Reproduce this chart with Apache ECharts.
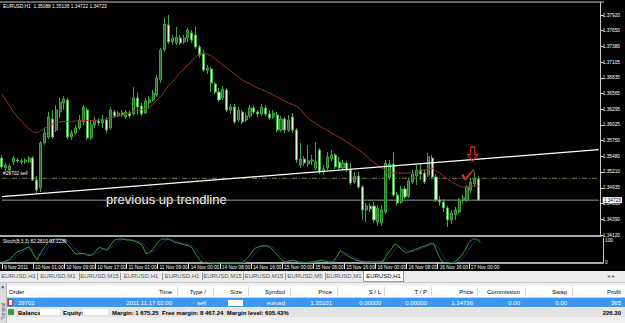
<!DOCTYPE html>
<html><head><meta charset="utf-8">
<script src="https://cdn.jsdelivr.net/npm/echarts@6/dist/echarts.min.js"></script>
<style>
html,body{margin:0;padding:0;background:#f0f0f0;}
#wrap{position:relative;width:625px;height:323px;overflow:hidden;font-family:'Liberation Sans',Arial,sans-serif;background:#f0f0f0;}
#chart{position:absolute;left:0;top:0;width:625px;height:272px;}
.a{position:absolute;white-space:nowrap;font-size:6px;line-height:8px;}
</style></head><body>
<div id="wrap"><div id="chart"></div><div id="ui"></div></div>
<script>
// ---------- data (EURUSD H1) ----------
const timeLabels = ['9 Nov 2011','10 Nov 01:00','10 Nov 09:00','10 Nov 17:00','11 Nov 01:00','11 Nov 09:00','14 Nov 00:00','14 Nov 08:00','14 Nov 16:00','15 Nov 00:00','15 Nov 08:00','15 Nov 16:00','16 Nov 00:00','16 Nov 08:00','16 Nov 16:00','17 Nov 00:00'];
const priceTicks = [1.37920,1.37650,1.37380,1.37105,1.36835,1.36565,1.36295,1.36025,1.35750,1.35480,1.35210,1.34935,1.34665,1.34390,1.34120];
const stochTicks = [0,100];
const openP = [
1.35451,1.35279,1.35244,1.35382,1.35417,1.35400,1.35382,1.35382,1.35451,1.35071,
1.34933,1.35710,1.35814,1.36125,1.35935,1.36246,1.36401,1.36453,1.35814,1.35883,
1.35969,1.36073,1.36280,1.35797,1.36021,1.36090,1.36056,1.36108,1.35969,1.36246,
1.36177,1.36228,1.36159,1.36228,1.36211,1.36488,1.36349,1.36228,1.36401,1.36453,
1.36539,1.36798,1.37317,1.37748,1.37455,1.37437,1.37524,1.37455,1.37524,1.37610,
1.37576,1.37368,1.37247,1.36971,1.36988,1.36729,1.36591,1.36488,1.36626,1.36280,
1.36332,1.36108,1.36246,1.36108,1.36177,1.36315,1.36246,1.36211,1.36315,1.36211,
1.36159,1.36194,1.35935,1.36125,1.35935,1.36159,1.35935,1.35330,1.35434,1.35348,
1.35400,1.35279,1.35590,1.35210,1.35279,1.35434,1.35503,1.35382,1.35279,1.35365,
1.35244,1.35037,1.35140,1.34950,1.34553,1.34622,1.34622,1.34346,1.34329,1.34519,
1.35106,1.35348,1.34812,1.34691,1.34916,1.34795,1.35037,1.35140,1.35244,1.35192,
1.35158,1.35451,1.35123,1.34726,1.34691,1.34588,1.34381,1.34467,1.34519,1.34726,
1.34726,1.34899,1.35002,1.35088];
const closeP = [
1.35296,1.35330,1.35313,1.35451,1.35400,1.35382,1.35417,1.35451,1.35071,1.34899,
1.35710,1.35883,1.36159,1.35814,1.36280,1.36418,1.36470,1.35814,1.35883,1.35969,
1.36108,1.36332,1.35797,1.36021,1.36108,1.36056,1.36125,1.35935,1.36280,1.36177,
1.36228,1.36194,1.36246,1.36177,1.36488,1.36332,1.36211,1.36436,1.36453,1.36574,
1.36833,1.37317,1.37766,1.37455,1.37524,1.37541,1.37437,1.37524,1.37662,1.37489,
1.37368,1.37230,1.36971,1.37006,1.36747,1.36591,1.36453,1.36643,1.36280,1.36332,
1.36073,1.36280,1.36073,1.36177,1.36315,1.36246,1.36211,1.36332,1.36211,1.36142,
1.36228,1.35935,1.36125,1.35935,1.36108,1.35935,1.35417,1.35434,1.35365,1.35400,
1.35417,1.35382,1.35210,1.35261,1.35469,1.35503,1.35296,1.35279,1.35365,1.35244,
1.35020,1.35140,1.34950,1.34553,1.34622,1.34571,1.34381,1.34588,1.34553,1.35365,
1.35348,1.34812,1.34674,1.34916,1.34778,1.35054,1.35175,1.35244,1.35175,1.35037,
1.35469,1.35123,1.34726,1.34691,1.34588,1.34381,1.34501,1.34553,1.34726,1.34761,
1.34950,1.35037,1.35089,1.34723];
const lowP = [
1.35261,1.35227,1.35192,1.35330,1.35365,1.35348,1.35348,1.35365,1.35054,1.34847,
1.34864,1.35676,1.35780,1.35780,1.35900,1.36142,1.36280,1.35780,1.35762,1.35849,
1.35935,1.36021,1.35762,1.35762,1.35969,1.36004,1.35969,1.35883,1.35935,1.36142,
1.36159,1.36159,1.36125,1.36142,1.36177,1.36194,1.36177,1.36211,1.36298,1.36418,
1.36505,1.36747,1.37282,1.37420,1.37403,1.37403,1.37403,1.37420,1.37455,1.37437,
1.37334,1.37178,1.36937,1.36902,1.36591,1.36557,1.36418,1.36453,1.36246,1.36211,
1.36039,1.36073,1.36039,1.36073,1.36142,1.36211,1.36159,1.36177,1.36177,1.36108,
1.36125,1.35900,1.35900,1.35883,1.35900,1.35883,1.35365,1.35279,1.35313,1.35296,
1.35330,1.35244,1.35175,1.35158,1.35244,1.35382,1.35261,1.35261,1.35244,1.35210,
1.34985,1.35002,1.34916,1.34381,1.34346,1.34519,1.34329,1.34277,1.34277,1.34484,
1.35071,1.34778,1.34640,1.34657,1.34743,1.34761,1.35002,1.34985,1.35071,1.35002,
1.35123,1.35089,1.34691,1.34622,1.34519,1.34260,1.34312,1.34381,1.34484,1.34657,
1.34691,1.34847,1.34950,1.34722];
const highP = [
1.35503,1.35365,1.35348,1.35486,1.35451,1.35434,1.35451,1.35486,1.35486,1.35140,
1.35745,1.35969,1.36246,1.36280,1.36367,1.36488,1.36522,1.36488,1.35935,1.36021,
1.36194,1.36367,1.36315,1.36108,1.36159,1.36142,1.36194,1.36159,1.36332,1.36280,
1.36263,1.36280,1.36280,1.36263,1.36678,1.36574,1.36401,1.36488,1.36522,1.36626,
1.36885,1.37351,1.37869,1.37921,1.37576,1.37714,1.37576,1.37576,1.37696,1.37662,
1.37714,1.37403,1.37317,1.37057,1.37023,1.36764,1.36660,1.36695,1.36660,1.36384,
1.36384,1.36332,1.36280,1.36228,1.36367,1.36349,1.36280,1.36384,1.36367,1.36280,
1.36280,1.36246,1.36177,1.36159,1.36194,1.36228,1.35969,1.35710,1.35486,1.35676,
1.35503,1.35728,1.35624,1.35330,1.35555,1.35590,1.35538,1.35469,1.35417,1.35400,
1.35365,1.35210,1.35210,1.34985,1.34674,1.34674,1.34691,1.34640,1.34640,1.35417,
1.35417,1.35555,1.34864,1.34968,1.34968,1.35106,1.35244,1.35330,1.35365,1.35244,
1.35538,1.35503,1.35175,1.34795,1.34743,1.34622,1.34553,1.34605,1.34761,1.34812,
1.34985,1.35106,1.35210,1.35136];
const maLine = [
1.36557,1.36453,1.36349,1.36246,1.36159,1.36090,1.36021,1.35952,1.35900,1.35883,
1.35917,1.35969,1.36004,1.36039,1.36056,1.36073,1.36082,1.36082,1.36082,1.36090,
1.36090,1.36099,1.36099,1.36099,1.36099,1.36108,1.36116,1.36125,1.36142,1.36159,
1.36177,1.36194,1.36211,1.36228,1.36254,1.36272,1.36289,1.36306,1.36332,1.36384,
1.36453,1.36522,1.36608,1.36695,1.36764,1.36850,1.36919,1.36988,1.37057,1.37127,
1.37196,1.37247,1.37265,1.37247,1.37213,1.37161,1.37109,1.37057,1.37006,1.36954,
1.36902,1.36850,1.36798,1.36764,1.36729,1.36695,1.36660,1.36634,1.36608,1.36574,
1.36539,1.36505,1.36470,1.36436,1.36401,1.36375,1.36349,1.36298,1.36211,1.36142,
1.36090,1.36047,1.36004,1.35961,1.35926,1.35883,1.35849,1.35805,1.35771,1.35728,
1.35685,1.35641,1.35590,1.35546,1.35486,1.35425,1.35374,1.35322,1.35279,1.35244,
1.35210,1.35192,1.35192,1.35192,1.35192,1.35192,1.35192,1.35210,1.35227,1.35244,
1.35261,1.35279,1.35227,1.35192,1.35140,1.35089,1.35045,1.35002,1.34968,1.34950,
1.34950,1.34959,1.34968,1.34968];
const stochMain = [
2,8,15,31,46,50,58,65,38,12,
42,65,85,92,96,96,88,73,54,35,
38,38,31,31,46,62,58,50,73,92,
96,96,92,92,88,81,73,38,42,58,
81,96,96,96,85,81,77,73,69,58,
31,8,0,0,1,0,2,0,1,0,
1,0,2,19,38,58,65,69,69,62,
46,27,12,4,8,12,4,0,1,4,
4,8,12,8,4,4,23,50,38,27,
19,12,8,4,4,4,4,4,8,35,
54,77,65,50,42,46,54,58,65,69,
77,77,38,8,0,0,1,12,27,50,
81,96,96,82.281];
const stochSignal = [
5,5,8,18,31,42,51,58,54,38,
31,40,64,81,91,95,93,86,72,54,
42,37,36,33,36,46,55,57,60,72,
87,95,95,93,91,87,81,64,51,46,
60,78,91,96,92,87,81,77,73,67,
53,32,13,3,0,0,0,0,0,0,
0,0,0,6,19,38,54,64,68,67,
59,45,28,14,8,8,8,5,2,2,
3,5,8,9,8,5,10,26,37,38,
28,19,13,8,5,4,4,4,5,16,
32,55,65,64,52,46,47,53,59,64,
70,74,64,41,15,3,0,4,13,30,
53,76,91,93.1236];
const trendLine = [[0,1.34783],[154,1.35595]];
const orderPrice = 1.35101;
const bidPrice = 1.34723;
const lineEnds = [0,154];
const arrowAt = [122,1.35520];
const checkAt = [121,1.35175];

// ---------- chart ----------
const N = 155;
const cats = Array.from({length:N},(_,i)=>i);
const candles = openP.map((o,i)=>[o,closeP[i],lowP[i],highP[i]]);
const F = "'Liberation Sans', Arial, sans-serif";
const FS = 4.8;
const showIdx = i => i%8===0 && i/8 < timeLabels.length;
const chart = echarts.init(document.getElementById('chart'), null, {renderer:'svg'});
chart.setOption({
  backgroundColor:'#000',
  animation:false,
  title:[
    {text:'EURUSD,H1  1.35088 1.35136 1.34722 1.34723', left:3, top:4, padding:0, textStyle:{color:'#fff',fontSize:FS,fontWeight:'normal',fontFamily:F}},
    {text:'Stoch(8,3,3) 82.2810 93.1236', left:3, top:239, padding:0, textStyle:{color:'#fff',fontSize:FS,fontWeight:'normal',fontFamily:F}}
  ],
  grid:[{left:0,top:2,width:603,height:234},{left:0,top:238,width:603,height:25}],
  xAxis:[
    {type:'category',gridIndex:0,data:cats,boundaryGap:true,
     axisLine:{show:true,lineStyle:{color:'#a8a8a8',width:2}},axisTick:{show:false},axisLabel:{show:false},splitLine:{show:false}},
    {type:'category',gridIndex:1,data:cats,boundaryGap:true,
     axisLine:{show:true,lineStyle:{color:'#a8a8a8',width:2}},
     axisTick:{show:true,alignWithLabel:true,interval:(i)=>showIdx(i),length:6,lineStyle:{color:'#ddd',width:1}},
     axisLabel:{show:true,interval:(i)=>showIdx(i),formatter:(v)=>timeLabels[v/8],color:'#fff',fontSize:FS,fontFamily:F,align:'left',margin:2,padding:[0,0,0,2]},
     splitLine:{show:false}}
  ],
  yAxis:[
    {type:'value',gridIndex:0,position:'right',min:1.34104,max:1.38145,
     axisLine:{show:true,lineStyle:{color:'#c8c8c8',width:1}},
     axisTick:{show:true,customValues:priceTicks,length:3,lineStyle:{color:'#ddd'}},
     axisLabel:{show:true,customValues:priceTicks.concat([bidPrice]),
       formatter:(v)=> v===bidPrice ? '{hl|'+v.toFixed(5)+'}' : v.toFixed(5),
       rich:{hl:{backgroundColor:'#fff',color:'#000',fontSize:FS,fontFamily:F,padding:[1,1,0,1]}},
       color:'#fff',fontSize:FS,fontFamily:F,margin:2},
     splitLine:{show:false}},
    {type:'value',gridIndex:1,position:'right',min:0,max:100,
     axisLine:{show:true,lineStyle:{color:'#c8c8c8',width:1}},
     axisTick:{show:false},
     axisLabel:{show:true,customValues:stochTicks,
       formatter:(v)=> v===100 ? '{t|100}' : '{b|0}',
       rich:{t:{padding:[5,0,0,0],color:'#fff',fontSize:FS,fontFamily:F},b:{padding:[0,0,2,0],color:'#fff',fontSize:FS,fontFamily:F}},
       color:'#fff',fontSize:FS,fontFamily:F,margin:2},
     splitLine:{show:false}}
  ],
  series:[
    {type:'line',xAxisIndex:0,yAxisIndex:0,data:lineEnds.map(i=>[i,bidPrice]),symbol:'none',lineStyle:{color:'#9a9a9a',width:1},z:1},
    {type:'line',xAxisIndex:0,yAxisIndex:0,data:lineEnds.map(i=>[i,orderPrice]),symbol:'none',lineStyle:{color:'#8c7a55',width:1,type:[5,2,1,2]},z:1},
    {type:'candlestick',xAxisIndex:0,yAxisIndex:0,data:candles,barWidth:2.6,z:2,
     itemStyle:{color:'#1f6e1f',color0:'#e4f6dc',borderColor:'#3fa63f',borderColor0:'#48a848',borderWidth:1},
     markPoint:{silent:true,animation:false,label:{show:false},
       data:[
        {coord:arrowAt,symbol:'path://M3,0 L7,0 L7,7 L10,7 L5,13 L0,7 L3,7 Z',symbolSize:[10,14],symbolOffset:[-2,0],
         itemStyle:{color:'rgba(0,0,0,0)',borderColor:'#e02a20',borderWidth:1.2}},
        {coord:checkAt,symbol:'path://M0,6 L2,5 L4,9 L12,0 L13,1 L4,12 Z',symbolSize:[13,12],symbolOffset:[-3,1],
         itemStyle:{color:'#e02a20'}}
       ]}
    },
    {type:'line',xAxisIndex:0,yAxisIndex:0,data:maLine,symbol:'none',lineStyle:{color:'#98322a',width:1},z:3},
    {type:'line',xAxisIndex:0,yAxisIndex:0,data:trendLine,symbol:'none',lineStyle:{color:'#fff',width:1.3},z:4},
    {type:'line',xAxisIndex:1,yAxisIndex:1,data:stochSignal,symbol:'none',lineStyle:{color:'#1c2868',width:1}},
    {type:'line',xAxisIndex:1,yAxisIndex:1,data:stochMain,symbol:'none',lineStyle:{color:'#3a9a3a',width:1}}
  ],
  graphic:[
    {type:'rect',shape:{x:0,y:1.5,width:604,height:1},style:{fill:'#c8c8c8'}},
    {type:'text',x:3,y:176,style:{text:'#29702 sell',fill:'#fff',fontSize:FS,fontFamily:F,verticalAlign:'bottom'}},
    {type:'text',x:106,y:199,style:{text:'previous up trendline',fill:'#fff',fontSize:13,fontFamily:F,verticalAlign:'middle'}}
  ]
});

// ---------- terminal UI ----------
const tabs = ['EURUSD,H1','EURUSD,M1','EURUSD,M15','EURUSD,H1','EURUSD,H1','EURUSD,M15','EURUSD,M15','EURUSD,M5','EURUSD,M1','EURUSD,H1'];
const tabEdges = [0,37,79,120,162,202,243,285,325,363,404];
const headCols = [['Time',172],['Type  /',206],['Size',242],['Symbol',285],['Price',332],['S / L',381],['T / P',427],['Price',473],['Commission',520],['Swap',567],['Profit',621]];
const rowVals = [['2011.11.17 02:00',172],['sell',206],['',242],['eurusd',285],['1.35101',332],['0.00000',381],['0.00000',427],['1.34736',473],['0.00',520],['0.00',567],['365',621]];
const colSeps = [177,213,248,290,337,384,431,477,525,572];
let h = '';
h += `<div class="a" style="left:0;top:271px;width:625px;height:11px;background:#ececec;border-bottom:1px solid #c8c8c8"></div>`;
tabs.forEach((t,i)=>{
  const l=tabEdges[i], r=tabEdges[i+1], act=i===tabs.length-1;
  if(act) h+=`<div class="a" style="left:${l}px;top:271px;width:${r-l}px;height:11px;background:#fff;border:1px solid #999;border-top:none;box-sizing:border-box"></div>`;
  h+=`<div class="a" style="left:${l}px;top:272px;width:${r-l}px;text-align:center;color:${act?'#000':'#555'}">${t}</div>`;
  if(!act && i<tabs.length-2) h+=`<div class="a" style="left:${r}px;top:273px;width:1px;height:7px;background:#999"></div>`;
});
h += `<div class="a" style="left:607px;top:272px;color:#777">&#9666; &#9656;</div>`;
h += `<div class="a" style="left:0;top:283px;width:625px;height:40px;background:#f0f0f0"></div>`;
h += `<div class="a" style="left:7px;top:286px;width:618px;height:11px;background:#fff;border-bottom:1px solid #d0d0d0"></div>`;
h += `<div class="a" style="left:9px;top:288px;color:#000">Order</div>`;
headCols.forEach(([t,e])=>{h+=`<div class="a" style="right:${625-e}px;top:288px;color:#000">${t}</div>`;});
colSeps.forEach(x=>{h+=`<div class="a" style="left:${x}px;top:287px;width:1px;height:9px;background:#d8d8d8"></div>`;});
h += `<div class="a" style="left:7px;top:298px;width:618px;height:9px;background:#3d96ef"></div>`;
h += `<div class="a" style="left:8px;top:299px;width:5px;height:7px;background:#f4f4f4;border:1px solid #b04030;box-sizing:border-box"></div>`;
h += `<div class="a" style="left:18px;top:299px;color:#fff">29702</div>`;
rowVals.forEach(([t,e])=>{h+=`<div class="a" style="right:${625-e}px;top:299px;color:#fff">${t}</div>`;});
h += `<div class="a" style="left:228px;top:300px;width:15px;height:6px;background:#fff"></div>`;
h += `<div class="a" style="left:7px;top:308px;width:618px;height:9px;background:#e4e4e4"></div>`;
h += `<div class="a" style="left:8px;top:309px;width:6px;height:6px;background:#3c9a3c;border-radius:1px"></div>`;
h += `<div class="a" style="left:18px;top:309px;color:#000;font-weight:bold">Balance:</div>`;
h += `<div class="a" style="left:40px;top:309px;width:20px;height:6px;background:#fff"></div>`;
h += `<div class="a" style="left:63px;top:309px;color:#000;font-weight:bold">Equity:</div>`;
h += `<div class="a" style="left:83px;top:309px;width:25px;height:6px;background:#fff"></div>`;
h += `<div class="a" style="left:112px;top:309px;color:#000;font-weight:bold">Margin: 1 675.25&nbsp; Free margin: 8 467.24&nbsp; Margin level: 605.43%</div>`;
h += `<div class="a" style="right:4px;top:309px;color:#000;font-weight:bold">226.30</div>`;
h += `<div class="a" style="left:0;top:283px;width:7px;height:40px;background:#dcdcdc;border-right:1px solid #bbb;box-sizing:border-box"></div>`;
h += `<div class="a" style="left:1px;top:283px;color:#000;font-size:6px">&#215;</div>`;
h += `<div class="a" style="left:1px;top:320px;color:#555;font-size:4.5px;line-height:5px;transform-origin:0 0;transform:rotate(-90deg)">Terminal</div>`;
document.getElementById('ui').innerHTML = h;
</script>
</body></html>
